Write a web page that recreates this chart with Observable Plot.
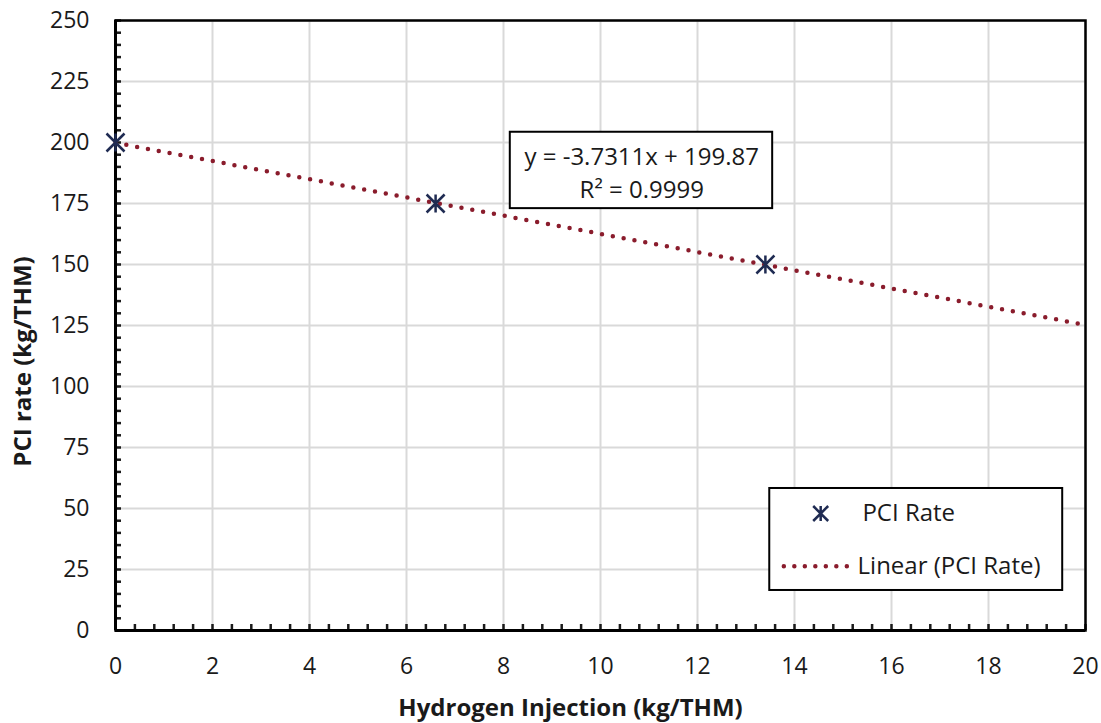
<!DOCTYPE html>
<html>
<head>
<meta charset="utf-8">
<script src="https://cdn.jsdelivr.net/npm/d3@7"></script>
<script src="https://cdn.jsdelivr.net/npm/@observablehq/plot@0.6"></script>
<style>
  html, body { margin: 0; padding: 0; background: #ffffff; }
  #chart svg { display: block; }
</style>
</head>
<body>
<div id="chart"></div>
<script>
// Measured PCI rates at each hydrogen injection level
const hydrogenInjection = [0, 6.6, 13.4];
const pciRate = [200, 175, 150];

// Fitted linear trend (as reported on the chart)
const trendSlope = -3.7311;
const trendIntercept = 199.87;
const trendR2 = 0.9999;
const trendRange = [0, 20];

// Axis ticks
const xTickValues = [0, 2, 4, 6, 8, 10, 12, 14, 16, 18, 20];
const yTickValues = [0, 25, 50, 75, 100, 125, 150, 175, 200, 225, 250];

// Legend entries
const seriesName = "PCI Rate";
const trendName = "Linear (PCI Rate)";

const xTitle = "Hydrogen Injection (kg/THM)";
const yTitle = "PCI rate (kg/THM)";

const points = hydrogenInjection.map((x, i) => ({x, y: pciRate[i]}));
const trend = trendRange.map(x => ({x, y: trendSlope * x + trendIntercept}));
const xMinor = d3.range(0, 51).map(i => +(i * 0.4).toFixed(1));
const yMinor = d3.range(0, 51).map(i => i * 5);

// Excel-style "star" marker: an X crossed by a vertical bar
const starSymbol = {
  draw(context, size) {
    const r = Math.sqrt(size / Math.PI);
    context.moveTo(-r, -r); context.lineTo(r, r);
    context.moveTo(-r, r); context.lineTo(r, -r);
    context.moveTo(0, -r); context.lineTo(0, r);
  }
};

const font = "'Open Sans', sans-serif";
const textColor = "#1a1a1a";
const markerColor = "#1f2b52";
const trendColor = "#8a1c2c";
const gridColor = "#d9d9d9";

const fmtEq = `y = ${trendSlope}x + ${trendIntercept}`;
const fmtR2 = `R² = ${trendR2}`;

const chart = Plot.plot({
  width: 1101,
  height: 723,
  marginTop: 20,
  marginRight: 16,
  marginBottom: 93,
  marginLeft: 115,
  style: {fontFamily: font, fontSize: "23px", color: textColor, background: "#ffffff"},
  x: {domain: [0, 20]},
  y: {domain: [0, 250]},
  marks: [
    Plot.gridX(xTickValues, {stroke: gridColor, strokeOpacity: 1, strokeWidth: 2}),
    Plot.gridY(yTickValues, {stroke: gridColor, strokeOpacity: 1, strokeWidth: 2}),

    // tick labels
    Plot.axisX(xTickValues, {tickSize: 0, tickPadding: 27, label: null, fontSize: 23}),
    Plot.axisY(yTickValues, {tickSize: 0, tickPadding: 26, label: null, fontSize: 23}),
    // inward-pointing minor ticks
    Plot.axisX(xMinor, {tickSize: -6, tickFormat: () => "", label: null, strokeWidth: 2.5}),
    Plot.axisY(yMinor, {tickSize: -6, tickFormat: () => "", label: null, strokeWidth: 2.5}),

    // dotted linear trend
    Plot.line(trend, {x: "x", y: "y", stroke: trendColor, strokeWidth: 4.5,
      strokeDasharray: "0 11", strokeLinecap: "round"}),

    Plot.frame({stroke: "#000", strokeWidth: 2.5}),
    Plot.ruleX([0], {stroke: "#000", strokeWidth: 3}),
    Plot.ruleY([0], {stroke: "#000", strokeWidth: 3}),

    // data points
    Plot.dot(points, {x: "x", y: "y", symbol: starSymbol, r: 9, stroke: markerColor,
      strokeWidth: 2.5, fill: "none"}),

    // trendline equation box
    Plot.rect([{}], {x1: 8.14, x2: 13.55, y1: 172.9, y2: 204.2, fill: "#fff", stroke: "#000", strokeWidth: 2}),
    Plot.text([fmtEq], {x: 10.85, y: 194.0, text: d => d, fontSize: 24, fill: textColor}),
    Plot.text([fmtR2], {x: 10.85, y: 180.6, text: d => d, fontSize: 24, fill: textColor}),

    // legend
    Plot.rect([{}], {x1: 13.49, x2: 19.53, y1: 16.4, y2: 58.2, fill: "#fff", stroke: "#000", strokeWidth: 2}),
    Plot.dot([{}], {x: 14.54, y: 47.95, symbol: starSymbol, r: 7.5, stroke: markerColor, strokeWidth: 2.5}),
    Plot.text([seriesName], {x: 15.4, y: 47.95, text: d => d, textAnchor: "start", fontSize: 24, fill: textColor}),
    Plot.link([{}], {x1: 13.78, x2: 15.22, y1: 26.3, y2: 26.3, stroke: trendColor, strokeWidth: 4.5,
      strokeDasharray: "0 10.5", strokeLinecap: "round"}),
    Plot.text([trendName], {x: 15.3, y: 26.3, text: d => d, textAnchor: "start", fontSize: 24, fill: textColor}),

    // axis titles
    Plot.text([xTitle], {frameAnchor: "bottom", text: d => d, dy: 78, dx: -30, lineAnchor: "middle",
      textAnchor: "middle", fontSize: 24, fontWeight: "bold", fill: textColor}),
    Plot.text([yTitle], {frameAnchor: "left", text: d => d, dx: -92, dy: 36, rotate: -90,
      lineAnchor: "middle", textAnchor: "middle", fontSize: 24, fontWeight: "bold", fill: textColor})
  ]
});

document.getElementById("chart").appendChild(chart);
</script>
</body>
</html>
